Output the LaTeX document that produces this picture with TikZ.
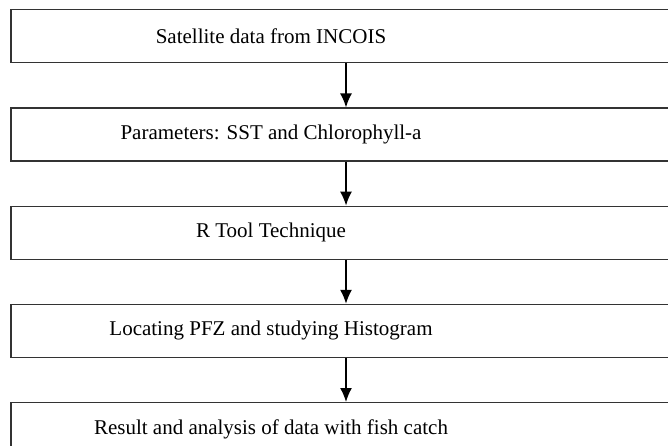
\documentclass[tikz,border=0pt]{standalone}
\usepackage{fontspec}
\setmainfont{Liberation Serif}
\usetikzlibrary{positioning,arrows.meta}

\begin{document}
\begin{tikzpicture}[
        x=1pt, y=1pt,
        node distance=44pt, % gap between the boxes
        stage/.style={draw=black!80, line width=1.2pt, minimum width=670pt, minimum height=53pt, inner sep=0pt,
            label={[xshift=-75pt, font=\fontsize{21}{25}\selectfont]center:{#1}}}, % box with its text
        flow/.style={line width=1.5pt, -{Latex[length=14pt, width=12pt]}},
    ]
    \useasboundingbox (0,0) rectangle (668,-445);
    \clip (0,0) rectangle (668,-445);

    \node[stage={Satellite data from INCOIS}] (sat) at (346,-36.3) {};
    \node[stage={Parameters: SST and Chlorophyll-a}, below=of sat] (param) {};
    \node[stage={R Tool Technique}, below=of param] (rtool) {};
    \node[stage={Locating PFZ and studying Histogram}, below=of rtool] (pfz) {};
    \node[stage={Result and analysis of data with fish catch}, below=of pfz] (result) {};

    \draw[flow] (sat) -- (param);
    \draw[flow] (param) -- (rtool);
    \draw[flow] (rtool) -- (pfz);
    \draw[flow] (pfz) -- (result);
\end{tikzpicture}
\end{document}
